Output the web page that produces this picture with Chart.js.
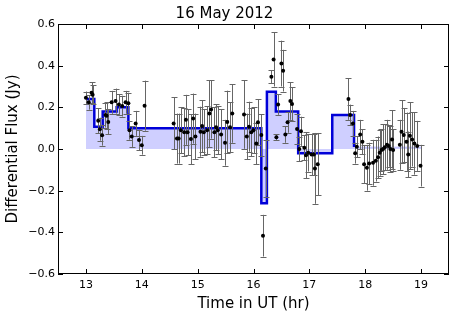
<!DOCTYPE html>
<html>
<head>
<meta charset="utf-8">
<script src="https://cdn.jsdelivr.net/npm/chart.js@4.4.1/dist/chart.umd.min.js"></script>
<style>
  body { margin: 0; background: #fff; }
  canvas { display: block; }
</style>
</head>
<body>
<canvas id="fluxChart" width="456" height="319"></canvas>
<script>
// Observed light curve (time in UT hours, flux in Jy, 1-sigma error)
const times = [
  13.00, 13.05, 13.10, 13.12, 13.22, 13.25, 13.29, 13.35, 13.37, 13.40,
  13.46, 13.53, 13.59, 13.65, 13.71, 13.76, 13.78, 13.82, 13.89, 13.95,
  14.00, 14.05,
  14.57, 14.63, 14.66, 14.70, 14.76, 14.79, 14.82, 14.88, 14.92, 14.96,
  15.05, 15.08, 15.11, 15.17, 15.21, 15.24, 15.30, 15.33, 15.36, 15.42,
  15.49, 15.53, 15.58, 15.62, 15.83, 15.88, 15.92, 15.96, 16.00, 16.05,
  16.08, 16.14,
  16.17, 16.22, 16.32, 16.36, 16.41, 16.44, 16.50, 16.53, 16.57, 16.61,
  16.66, 16.69, 16.78, 16.82, 16.85, 16.91, 16.94, 16.98, 17.04, 17.08,
  17.10, 17.15,
  17.70, 17.73, 17.78, 17.82, 17.85, 17.91, 17.95, 17.98, 18.03, 18.07,
  18.14, 18.19, 18.23, 18.26, 18.29, 18.32, 18.35, 18.39, 18.42, 18.45,
  18.48, 18.50, 18.62, 18.65, 18.69, 18.74, 18.77, 18.80, 18.84, 18.88,
  18.93, 18.99
];
const flux = [
  0.246, 0.224, 0.270, 0.260, 0.136, 0.095, 0.066, 0.163, 0.160, 0.130,
  0.224, 0.230, 0.214, 0.206, 0.224, 0.220, 0.090, 0.060, 0.123, 0.043,
  0.018, 0.208,
  0.123, 0.050, 0.050, 0.090, 0.080, 0.140, 0.080, 0.048, 0.146, 0.060,
  0.083, 0.110, 0.080, 0.090, 0.170, 0.190, 0.080, 0.104, 0.090, 0.070,
  0.030, 0.130, 0.104, 0.170, 0.166, 0.060, 0.107, 0.080, 0.090, 0.027,
  0.128, 0.067,
  -0.416, -0.093, 0.347, 0.430, 0.056, 0.214, 0.410, 0.376, 0.070, 0.128,
  0.230, 0.216, 0.096, 0.000, 0.085, 0.006, -0.030, -0.018, -0.026, -0.026,
  -0.093, -0.073,
  0.240, 0.163, 0.123, -0.020, 0.011, 0.070, 0.035, -0.073, -0.090, -0.070,
  -0.066, -0.056, -0.040, -0.018, -0.005, 0.000, 0.008, 0.020, 0.015, 0.000,
  0.046, -0.005, 0.020, 0.083, 0.067, 0.035, -0.026, 0.064, 0.046, 0.027,
  0.015, -0.080
];
const fluxErr = [
  0.030, 0.035, 0.050, 0.045, 0.060, 0.055, 0.050, 0.060, 0.065, 0.060,
  0.055, 0.060, 0.050, 0.050, 0.055, 0.050, 0.045, 0.050, 0.060, 0.050,
  0.045, 0.120,
  0.125, 0.120, 0.120, 0.110, 0.115, 0.120, 0.110, 0.120, 0.120, 0.110,
  0.120, 0.125, 0.110, 0.115, 0.160, 0.140, 0.120, 0.110, 0.115, 0.120,
  0.110, 0.150, 0.120, 0.140, 0.165, 0.110, 0.120, 0.115, 0.110, 0.100,
  0.110, 0.100,
  0.100, 0.135, 0.030, 0.130, 0.015, 0.050, 0.110, 0.100, 0.040, 0.050,
  0.090, 0.080, 0.070, 0.060, 0.070, 0.060, 0.110, 0.090, 0.100, 0.100,
  0.170, 0.150,
  0.100, 0.050, 0.060, 0.050, 0.050, 0.070, 0.060, 0.090, 0.110, 0.100,
  0.110, 0.100, 0.100, 0.110, 0.100, 0.120, 0.110, 0.120, 0.100, 0.110,
  0.140, 0.100, 0.120, 0.150, 0.130, 0.140, 0.110, 0.160, 0.130, 0.150,
  0.120, 0.100
];

// Bayesian block edges and levels
const blockStarts = [13.00, 13.15, 13.30, 13.55, 13.76, 16.14, 16.24, 16.40, 16.80, 17.41, 17.80];
const blockLevels = [0.24, 0.107, 0.18, 0.20, 0.10, -0.26, 0.275, 0.18, -0.02, 0.163, 0.01];
const lastBlockEnd = 19.0;

const xTicks = [13, 14, 15, 16, 17, 18, 19];
const yTicks = [-0.6, -0.4, -0.2, 0.0, 0.2, 0.4, 0.6];

const FONT = "'DejaVu Sans', sans-serif";

const points = times.map((t, i) => ({ x: t, y: flux[i] }));
const stepLine = blockStarts.map((t, i) => ({ x: t, y: blockLevels[i] }));
const stepFill = stepLine.concat([{ x: lastBlockEnd, y: blockLevels[blockLevels.length - 1] }]);

// error bars, drawn just before the points
const errorBars = {
  id: 'errorBars',
  beforeDatasetDraw(chart, args) {
    if (args.index !== 0) return;
    const { ctx, scales: { x, y } } = chart;
    ctx.save();
    ctx.strokeStyle = '#666';
    ctx.lineWidth = 1;
    times.forEach((t, i) => {
      const px = Math.round(x.getPixelForValue(t)) + 0.5;
      const top = y.getPixelForValue(flux[i] + fluxErr[i]);
      const bot = y.getPixelForValue(flux[i] - fluxErr[i]);
      ctx.beginPath();
      ctx.moveTo(px, top);
      ctx.lineTo(px, bot);
      ctx.moveTo(px - 3, Math.round(top) + 0.5);
      ctx.lineTo(px + 3, Math.round(top) + 0.5);
      ctx.moveTo(px - 3, Math.round(bot) + 0.5);
      ctx.lineTo(px + 3, Math.round(bot) + 0.5);
      ctx.stroke();
    });
    ctx.restore();
  }
};

// box frame with inward ticks on all four sides
const frame = {
  id: 'frame',
  afterDraw(chart) {
    const { ctx, chartArea: a, scales: { x, y } } = chart;
    ctx.save();
    ctx.strokeStyle = '#000';
    ctx.lineWidth = 1;
    ctx.strokeRect(a.left + 0.5, a.top + 0.5, a.right - a.left - 1, a.bottom - a.top - 1);
    ctx.beginPath();
    xTicks.forEach(v => {
      const px = Math.round(x.getPixelForValue(v)) + 0.5;
      ctx.moveTo(px, a.bottom);
      ctx.lineTo(px, a.bottom - 5);
      ctx.moveTo(px, a.top);
      ctx.lineTo(px, a.top + 5);
    });
    yTicks.forEach(v => {
      const py = Math.round(y.getPixelForValue(v)) + 0.5;
      ctx.moveTo(a.left, py);
      ctx.lineTo(a.left + 5, py);
      ctx.moveTo(a.right, py);
      ctx.lineTo(a.right - 5, py);
    });
    ctx.stroke();
    ctx.restore();
  }
};

new Chart(document.getElementById('fluxChart'), {
  type: 'scatter',
  data: {
    datasets: [
      {
        label: 'data',
        data: points,
        order: 0,
        showLine: false,
        pointRadius: 2,
        pointBackgroundColor: '#000',
        pointBorderColor: '#000',
        pointBorderWidth: 0
      },
      {
        label: 'blocks',
        data: stepLine,
        order: 1,
        showLine: true,
        stepped: 'before',
        borderColor: '#0000d8',
        borderWidth: 2.5,
        pointRadius: 0,
        fill: false
      },
      {
        label: 'blocks fill',
        data: stepFill,
        order: 2,
        showLine: true,
        stepped: 'before',
        borderColor: 'rgba(0, 0, 255, 0.15)',
        borderWidth: 1,
        pointRadius: 0,
        fill: 'origin',
        backgroundColor: 'rgba(0, 0, 255, 0.19)'
      }
    ]
  },
  options: {
    responsive: false,
    devicePixelRatio: 1,
    animation: false,
    layout: { padding: { top: 0, right: 7, left: 0, bottom: 0 } },
    plugins: {
      legend: { display: false },
      tooltip: { enabled: false },
      title: {
        display: true,
        text: '16 May 2012',
        color: '#000',
        font: { family: FONT, size: 15, weight: 'normal' },
        padding: { top: 5, bottom: 1 }
      }
    },
    scales: {
      x: {
        type: 'linear',
        min: 12.5,
        max: 19.5,
        afterBuildTicks: s => { s.ticks = xTicks.map(v => ({ value: v })); },
        afterFit: s => { s.height = 45; },
        grid: { display: false, drawTicks: false },
        border: { display: false },
        ticks: {
          color: '#000',
          font: { family: FONT, size: 11 },
          padding: 5,
          maxRotation: 0,
          callback: v => String(v)
        },
        title: {
          display: true,
          text: 'Time in UT (hr)',
          color: '#000',
          font: { family: FONT, size: 15 },
          padding: { top: 0, bottom: 6 }
        }
      },
      y: {
        type: 'linear',
        min: -0.6,
        max: 0.6,
        afterBuildTicks: s => { s.ticks = yTicks.map(v => ({ value: v })); },
        afterFit: s => { s.width = 58; },
        grid: { display: false, drawTicks: false },
        border: { display: false },
        ticks: {
          color: '#000',
          font: { family: FONT, size: 11 },
          padding: 3,
          callback: v => v.toFixed(1).replace('-', '\u2212')
        },
        title: {
          display: true,
          text: 'Differential Flux (Jy)',
          color: '#000',
          font: { family: FONT, size: 15 },
          padding: { top: 4, bottom: 0 }
        }
      }
    }
  },
  plugins: [errorBars, frame]
});
</script>
</body>
</html>
